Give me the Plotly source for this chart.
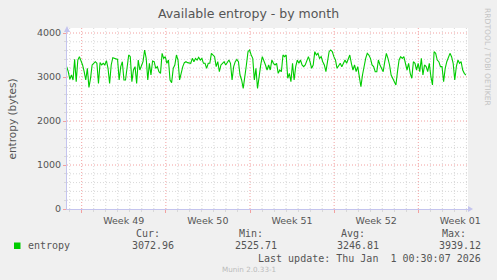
import pandas as pd
import plotly.graph_objects as go

# ---------------- data ----------------
week_starts = ["2025-12-01", "2025-12-08", "2025-12-15", "2025-12-22", "2025-12-29"]
week_labels = ["Week 49", "Week 50", "Week 51", "Week 52", "Week 01"]
y_ticks = [0, 1000, 2000, 3000, 4000]
y_tick_labels = ["0", "1000", "2000", "3000", "4000"]

entropy_part1 = [
    3235, 3121, 2947, 3045, 2932, 3401, 2894, 3386, 3462, 3386,
    3273, 3121, 2932, 3197, 2765, 2970, 3273, 3311, 3348, 3311,
    2856, 3326, 3273, 3311, 3273, 3371, 3197, 2856, 3273, 3439,
    3424, 3401, 3401, 2932, 3235, 3348, 2932, 2932, 3235, 3500,
    3462, 2894, 3159, 3235, 2856, 3386, 3159, 3273, 3348, 3614,
    3424, 2932, 3311, 3045, 3364, 3348, 3197, 3235, 3121, 3083,
    3538, 3424, 3462, 3311, 3386, 2932, 2871, 3197, 3273, 3500,
    3386, 2932, 3121, 3235, 3326, 3348, 3326, 3311, 3311, 3424,
    3348, 3424, 3386, 3447, 3386, 3424, 3311, 3311, 3197, 3311,
    3311, 3538, 3500, 3462, 3235, 3348, 3121, 3273, 3311, 3348,
    3273, 3348, 3386, 3311, 2932, 3235, 3348, 3401, 3348, 3045,
    2932, 2742, 3083, 3273, 3576, 3614, 3500, 3424, 2932,
]
entropy_part2 = [
    3197, 2742, 3045, 3273, 3462, 3386, 3273, 3159, 3273,
    3159, 3386, 3311, 3273, 3311, 3083, 3159, 3121, 3500, 3462,
    3500, 2970, 3083, 2894, 3311, 2932, 3235, 3386, 3311, 3386,
    3273, 3235, 3273, 3348, 3462, 3348, 3197, 3273, 3576, 3500,
    3538, 3424, 3462, 3348, 3273, 3121, 3348, 3576, 3614, 3576,
    3462, 3386, 3197, 3273, 3311, 3235, 3311, 3386, 3311, 3386,
    3500, 3311, 3159, 3273, 3121, 3235, 3045, 2780, 3045, 3273,
    3424, 3538, 3500, 3424, 3273, 3235, 3121, 3121, 3386, 3273,
    3197, 3121, 3348, 3538, 3424, 3273, 3045, 2970, 2932, 2818,
    3121, 3386, 3462, 3424, 3462, 3273, 3159, 3311, 3083, 2970,
    3348, 3311, 3159, 3311, 3121, 3424, 3045, 3273, 3235, 3121,
    3311, 3007, 2818, 3576, 3538, 3386, 3348, 3235, 3235, 2894,
    3197, 3348, 3424, 3538, 3462, 3311, 2932, 3235, 3386, 3311, 3348,
    3159, 3083, 3045,
]
entropy = entropy_part1 + entropy_part2
time_start = "2025-11-29 18:00"
time_end = "2026-01-01 23:00"
times = pd.date_range(time_start, time_end, periods=len(entropy))

x_range = ["2025-11-29 18:39", "2026-01-02 03:14"]

series_name = "entropy"
stats_headers = ["Cur:", "Min:", "Avg:", "Max:"]
stats_values = ["3072.96", "2525.71", "3246.81", "3939.12"]
last_update = "Last update: Thu Jan  1 00:30:07 2026"
title_text = "Available entropy - by month"
y_title = "entropy (bytes)"
side_text = "RRDTOOL / TOBI OETIKER"
footer_text = "Munin 2.0.33-1"

# ---------------- layout geometry ----------------
WIDTH, HEIGHT = 497, 280
L, R, T, B = 67, 29, 28, 71
PW = WIDTH - L - R
PH = HEIGHT - T - B
Y_TOP = 4000 * PH / 176.0


def fx(px):
    return (px - L) / PW


def fy(py):
    return (T + PH - py) / PH


MAJOR = "#F2A0A0"
MINOR = "#D8D8D8"
AXIS = "#C4C4EE"
TXT = "#555555"
MONO = "DejaVu Sans Mono"
SANS = "DejaVu Sans"

# daily minor grid, skipping the Monday week boundaries (drawn as major lines)
day_grid = [d for d in pd.date_range("2025-11-30", "2026-01-02", freq="D")
            if d.strftime("%Y-%m-%d") not in week_starts]
minor_y = [v for v in range(200, 4200, 200) if v not in y_ticks]

fig = go.Figure()
fig.add_trace(go.Scatter(
    x=times, y=entropy, mode="lines", name=series_name,
    line=dict(color="#00CC00", width=1.1), showlegend=False,
    hoverinfo="skip",
))

fig.update_layout(
    width=WIDTH, height=HEIGHT, autosize=False,
    margin=dict(l=L, r=R, t=T, b=B, pad=0),
    paper_bgcolor="#F0F0F0", plot_bgcolor="#FFFFFF",
    title=dict(text=title_text, x=0.5, xanchor="center", y=1 - 13.5 / HEIGHT,
               yanchor="middle", font=dict(family=SANS, size=12.5, color=TXT)),
    showlegend=False,
)

fig.update_xaxes(
    type="date", range=x_range,
    tickmode="array", tickvals=week_starts, ticktext=week_labels,
    ticklabelshift=42,
    tickfont=dict(family=SANS, size=9.5, color=TXT),
    showgrid=False,
    ticks="outside", ticklen=3, tickcolor=MAJOR,
    minor=dict(tickmode="array", tickvals=day_grid, showgrid=False,
               ticks="outside", ticklen=2, tickcolor=MINOR),
    showline=True, linecolor=AXIS, linewidth=1, zeroline=False,
    fixedrange=True,
)
fig.update_yaxes(
    range=[0, Y_TOP],
    tickmode="array", tickvals=y_ticks, ticktext=y_tick_labels,
    tickfont=dict(family=SANS, size=9.5, color=TXT),
    showgrid=False,
    ticks="outside", ticklen=3, tickcolor=MAJOR,
    minor=dict(tickmode="array", tickvals=minor_y, showgrid=False,
               ticks="outside", ticklen=2, tickcolor=MINOR),
    showline=True, linecolor=AXIS, linewidth=1, zeroline=False,
    fixedrange=True,
)

# grid lines drawn as shapes beneath the trace
shapes = []
for d in day_grid:
    shapes.append(dict(type="line", layer="below", xref="x", yref="paper",
                       x0=d, x1=d, y0=0, y1=1,
                       line=dict(color=MINOR, width=1, dash="1px,2px")))
for v in minor_y:
    shapes.append(dict(type="line", layer="below", xref="paper", yref="y",
                       x0=0, x1=1, y0=v, y1=v,
                       line=dict(color=MINOR, width=1, dash="1px,2px")))
for d in week_starts:
    shapes.append(dict(type="line", layer="below", xref="x", yref="paper",
                       x0=d, x1=d, y0=0, y1=1,
                       line=dict(color=MAJOR, width=1, dash="1px,2px")))
for v in y_ticks[1:]:
    shapes.append(dict(type="line", layer="below", xref="paper", yref="y",
                       x0=0, x1=1, y0=v, y1=v,
                       line=dict(color=MAJOR, width=1, dash="1px,2px")))

# legend swatch and axis arrowheads
shapes += [
    dict(type="rect", xref="paper", yref="paper", x0=fx(14), x1=fx(20.5),
         y0=fy(249), y1=fy(242.5), fillcolor="#00CC00", line=dict(width=0)),
    dict(type="path", xref="paper", yref="paper",
         path=f"M {fx(64)} {fy(32)} L {fx(70)} {fy(32)} L {fx(67)} {fy(26)} Z",
         fillcolor=AXIS, line=dict(width=0)),
    dict(type="path", xref="paper", yref="paper",
         path=f"M {fx(468)} {fy(206)} L {fx(468)} {fy(212)} L {fx(473)} {fy(209)} Z",
         fillcolor=AXIS, line=dict(width=0)),
]

ann = []
ann.append(dict(text=y_title, x=fx(11), y=fy(119.5), xref="paper", yref="paper",
                textangle=-90, showarrow=False, xanchor="center", yanchor="middle",
                font=dict(family=SANS, size=10.5, color=TXT)))
ann.append(dict(text=side_text, x=fx(488), y=fy(57), xref="paper", yref="paper",
                textangle=90, showarrow=False, xanchor="center", yanchor="middle",
                font=dict(family=SANS, size=7.6, color="#C4C4C4")))
header_right = [162, 265, 367, 468]
value_right = [176, 279, 381, 483]
for h, v, hx, vx in zip(stats_headers, stats_values, header_right, value_right):
    ann.append(dict(text=h, x=fx(hx), y=fy(233.5), xref="paper", yref="paper",
                    showarrow=False, xanchor="right", yanchor="middle",
                    font=dict(family=MONO, size=10, color=TXT)))
    ann.append(dict(text=v, x=fx(vx), y=fy(245.5), xref="paper", yref="paper",
                    showarrow=False, xanchor="right", yanchor="middle",
                    font=dict(family=MONO, size=10, color=TXT)))
ann.append(dict(text=series_name, x=fx(26), y=fy(245.5), xref="paper", yref="paper",
                showarrow=False, xanchor="left", yanchor="middle",
                font=dict(family=MONO, size=10, color=TXT)))
ann.append(dict(text=last_update.replace(" ", "\u00a0"), x=fx(483), y=fy(258),
                xref="paper", yref="paper", showarrow=False, xanchor="right",
                yanchor="middle", font=dict(family=MONO, size=10, color=TXT)))
ann.append(dict(text=footer_text, x=fx(248.5), y=fy(269.5), xref="paper", yref="paper",
                showarrow=False, xanchor="center", yanchor="middle",
                font=dict(family=SANS, size=7.2, color="#BBBBBB")))

fig.update_layout(annotations=ann, shapes=shapes)

fig.write_html("out.html")
